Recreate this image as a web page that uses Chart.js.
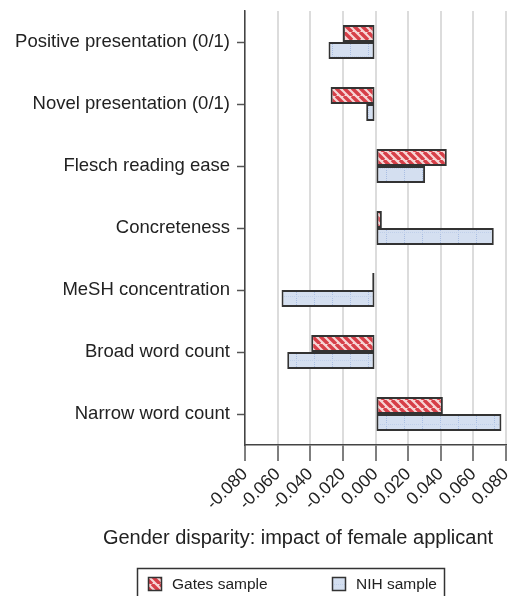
<!DOCTYPE html>
<html>
<head>
<meta charset="utf-8">
<script src="https://cdn.jsdelivr.net/npm/chart.js@4/dist/chart.umd.min.js"></script>
<style>
html,body{margin:0;padding:0;background:#fff;}
#wrap{width:517px;height:596px;position:relative;}
</style>
</head>
<body>
<div id="wrap"><canvas id="c" width="517" height="596"></canvas></div>
<script>
const categories = [
  "Positive presentation (0/1)",
  "Novel presentation (0/1)",
  "Flesch reading ease",
  "Concreteness",
  "MeSH concentration",
  "Broad word count",
  "Narrow word count"
];
const gatesValues = [-0.020, -0.0275, 0.0437, 0.0039, -0.002, -0.0394, 0.0413];
const nihValues   = [-0.0288, -0.0057, 0.0304, 0.0725, -0.0576, -0.0541, 0.0772];
const seriesNames = ["Gates sample", "NIH sample"];
const xTicks = [-0.08, -0.06, -0.04, -0.02, 0, 0.02, 0.04, 0.06, 0.08];
const xTitle = "Gender disparity: impact of female applicant";

const FONT = "'Liberation Sans', Arial, Helvetica, sans-serif";

function makeGatesPattern() {
  const s = 8;
  const c = document.createElement('canvas');
  c.width = s; c.height = s;
  const g = c.getContext('2d');
  g.fillStyle = '#f6d6d6';
  g.fillRect(0, 0, s, s);
  g.strokeStyle = '#d63f48';
  g.lineWidth = 3.4;
  g.beginPath();
  for (let k = -2; k <= 2; k++) {
    g.moveTo(k * s, 0);
    g.lineTo(k * s + s, s);
  }
  g.stroke();
  return g.createPattern(c, 'repeat');
}
function makeNihPattern() {
  const w = 18, h = 16;
  const c = document.createElement('canvas');
  c.width = w; c.height = h;
  const g = c.getContext('2d');
  g.fillStyle = '#d4dff0';
  g.fillRect(0, 0, w, h);
  g.fillStyle = '#a9bee3';
  for (let y = 0; y < h; y += 2) g.fillRect(8, y, 1, 1);
  g.fillStyle = '#c0d0ea';
  for (let x = 0; x < w; x += 2) g.fillRect(x, 8, 1, 1);
  return g.createPattern(c, 'repeat');
}

const gatesFill = makeGatesPattern();
const nihFill = makeNihPattern();

const extras = {
  id: 'extras',
  afterDraw(chart) {
    const ctx = chart.ctx;
    ctx.save();
    // axis title
    ctx.fillStyle = '#222';
    ctx.font = "20px " + FONT;
    ctx.textAlign = 'center';
    ctx.textBaseline = 'middle';
    ctx.fillText(xTitle, 298, 538);
    // legend box
    ctx.strokeStyle = '#333';
    ctx.lineWidth = 1.5;
    ctx.strokeRect(137.5, 568.5, 307, 34);
    const items = [
      {x: 148, fill: gatesFill, label: chart.data.datasets[0].label},
      {x: 332, fill: nihFill, label: chart.data.datasets[1].label}
    ];
    ctx.font = "15.5px " + FONT;
    ctx.textAlign = 'left';
    items.forEach(it => {
      ctx.fillStyle = it.fill;
      ctx.fillRect(it.x, 577, 14, 14);
      ctx.strokeStyle = '#333';
      ctx.lineWidth = 1.5;
      ctx.strokeRect(it.x + 0.5, 577.5, 13, 13);
      ctx.fillStyle = '#222';
      ctx.fillText(it.label, it.x + 24, 585);
    });
    ctx.restore();
  }
};

new Chart(document.getElementById('c'), {
  type: 'bar',
  data: {
    labels: categories,
    datasets: [
      {
        label: seriesNames[0],
        data: gatesValues,
        backgroundColor: gatesFill,
        borderColor: '#333',
        borderWidth: 2,
        borderSkipped: false,
        categoryPercentage: 0.55,
        barPercentage: 1.0
      },
      {
        label: seriesNames[1],
        data: nihValues,
        backgroundColor: nihFill,
        borderColor: '#333',
        borderWidth: 2,
        borderSkipped: false,
        categoryPercentage: 0.55,
        barPercentage: 1.0
      }
    ]
  },
  options: {
    indexAxis: 'y',
    responsive: false,
    animation: false,
    layout: { padding: { top: 11, right: 11, left: 0, bottom: 0 } },
    plugins: {
      legend: { display: false },
      tooltip: { enabled: false },
      title: { display: false }
    },
    scales: {
      x: {
        type: 'linear',
        min: xTicks[0],
        max: xTicks[xTicks.length - 1],
        afterBuildTicks(scale) { scale.ticks = xTicks.map(v => ({ value: v })); },
        afterFit(scale) {
          scale.height = 151;
          scale.paddingLeft = 0;
          scale.paddingRight = 0;
        },
        ticks: {
          color: '#222',
          font: { family: FONT, size: 17.5 },
          minRotation: 45,
          maxRotation: 45,
          padding: 3,
          autoSkip: false,
          callback: v => v.toFixed(3)
        },
        grid: {
          color: '#dcdcdc',
          lineWidth: 2,
          drawTicks: true,
          tickLength: 16,
          tickColor: '#555',
          tickWidth: 1.5
        },
        border: { display: true, color: '#444', width: 1.5 }
      },
      y: {
        type: 'category',
        offset: true,
        afterFit(scale) {
          scale.width = 245;
          scale.paddingTop = 0;
          scale.paddingBottom = 0;
        },
        ticks: {
          color: '#222',
          font: { family: FONT, size: 18.5 },
          padding: 7,
          autoSkip: false
        },
        grid: {
          offset: false,
          drawOnChartArea: false,
          drawTicks: true,
          tickLength: 8,
          tickColor: '#555',
          tickWidth: 1.5
        },
        border: { display: true, color: '#444', width: 1.5 }
      }
    }
  },
  plugins: [extras]
});
</script>
</body>
</html>
